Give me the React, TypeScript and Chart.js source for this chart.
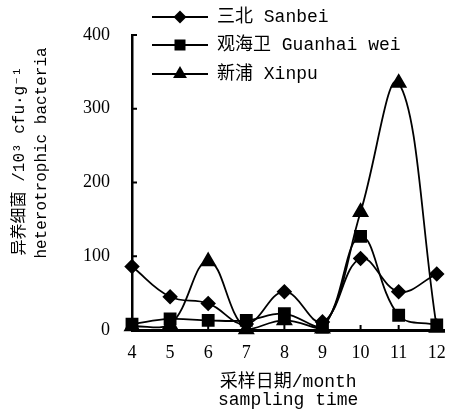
import React, { useEffect, useRef } from 'react';
import { Chart, registerables } from 'chart.js';

Chart.register(...registerables);

const months = [4, 5, 6, 7, 8, 9, 10, 11, 12];
const sanbei = [86, 45, 36, 8, 52, 11, 97, 52, 76];
const guanhai = [8, 15, 13, 13, 22, 4, 127, 20, 7];
const xinpu = [5, 7, 93, 1, 13, 2, 160, 335, 3];
const seriesLabels = ['三北 Sanbei', '观海卫 Guanhai wei', '新浦 Xinpu'];
const seriesMarkers = ['rectRot', 'rect', 'triangle'];
const yTicks = [0, 100, 200, 300, 400];
const yTitleLines = ['异养细菌 /10³ cfu·g⁻¹', 'heterotrophic bacteria'];
const xTitleLines = ['采样日期/month', 'sampling time'];

const MONO = "'Liberation Mono', 'Noto Sans CJK SC', monospace";
const SERIF = "'Liberation Serif', serif";

function drawMarker(ctx: CanvasRenderingContext2D, kind: string, x: number, y: number) {
  ctx.beginPath();
  if (kind === 'rectRot') {
    const r = 6.5;
    ctx.moveTo(x, y - r); ctx.lineTo(x + r, y); ctx.lineTo(x, y + r); ctx.lineTo(x - r, y);
  } else if (kind === 'rect') {
    const s = 5.5;
    ctx.rect(x - s, y - s, 2 * s, 2 * s);
  } else {
    const r = 8;
    const side = r * Math.sqrt(3);
    const h = side * Math.sqrt(3) / 2;
    ctx.moveTo(x, y - (2 / 3) * h); ctx.lineTo(x + side / 2, y + h / 3); ctx.lineTo(x - side / 2, y + h / 3);
  }
  ctx.closePath();
  ctx.fill();
}

const decorPlugin = {
  id: 'decor',
  afterDraw(chart: any) {
    const ctx: CanvasRenderingContext2D = chart.ctx;
    const { left, bottom } = chart.chartArea;
    const xs = chart.scales.x;
    const ys = chart.scales.y;
    ctx.save();
    ctx.strokeStyle = '#000';
    ctx.fillStyle = '#000';
    ctx.lineWidth = 2;
    yTicks.forEach((v) => {
      if (v === 0) return;
      const py = ys.getPixelForValue(v);
      ctx.beginPath(); ctx.moveTo(left, py); ctx.lineTo(left + 5, py); ctx.stroke();
    });
    months.forEach((m) => {
      if (m === months[0]) return;
      const px = xs.getPixelForValue(m);
      ctx.beginPath(); ctx.moveTo(px, bottom); ctx.lineTo(px, bottom - 5); ctx.stroke();
    });
    const rows = [17, 45, 74];
    ctx.font = `18px ${MONO}`;
    ctx.textBaseline = 'middle';
    ctx.textAlign = 'left';
    seriesLabels.forEach((lab, i) => {
      const y = rows[i];
      ctx.lineWidth = 2;
      ctx.beginPath(); ctx.moveTo(152, y); ctx.lineTo(208, y); ctx.stroke();
      drawMarker(ctx, seriesMarkers[i], 180, y);
      ctx.fillText(lab, 217, y);
    });
    ctx.font = `16px ${MONO}`;
    ctx.textAlign = 'center';
    const ycent = [[20, 161], [42, 153]];
    yTitleLines.forEach((t, i) => {
      ctx.save();
      ctx.translate(ycent[i][0], ycent[i][1]);
      ctx.rotate(-Math.PI / 2);
      ctx.fillText(t, 0, 0);
      ctx.restore();
    });
    ctx.restore();
  },
};

export default function App() {
  const ref = useRef<HTMLCanvasElement | null>(null);
  useEffect(() => {
    document.body.style.margin = '0';
    const mk = (data: number[]) => months.map((m, i) => ({ x: m, y: data[i] }));
    const common = {
      borderColor: '#000',
      backgroundColor: '#000',
      pointBackgroundColor: '#000',
      pointBorderColor: '#000',
      borderWidth: 1.8,
      tension: 0.4,
      clip: false as any,
    };
    const chart = new Chart(ref.current!, {
      type: 'line',
      data: {
        datasets: [
          { ...common, label: seriesLabels[0], data: mk(sanbei), pointStyle: 'rectRot', pointRadius: 6.5 },
          { ...common, label: seriesLabels[1], data: mk(guanhai), pointStyle: 'rect', pointRadius: 7.8 },
          { ...common, label: seriesLabels[2], data: mk(xinpu), pointStyle: 'triangle', pointRadius: 8 },
        ],
      },
      options: {
        animation: false,
        responsive: true,
        maintainAspectRatio: false,
        layout: { padding: { top: 35, right: 10, left: 0, bottom: 0 } },
        plugins: { legend: { display: false }, tooltip: { enabled: false } },
        scales: {
          x: {
            type: 'linear',
            min: 4,
            max: 12.2,
            afterBuildTicks: (s: any) => { s.ticks = months.map((v) => ({ value: v })); },
            afterFit: (s: any) => { s.height = 90; },
            grid: { display: false, drawTicks: false },
            border: { display: true, color: '#000', width: 3 },
            ticks: {
              autoSkip: false,
              maxRotation: 0,
              padding: 12,
              color: '#000',
              font: { family: SERIF, size: 18 },
              callback: (v: any) => String(v),
            },
            title: {
              display: true,
              text: xTitleLines,
              color: '#000',
              font: { family: MONO, size: 18, lineHeight: 1.0 },
              padding: { top: 0, bottom: 11 },
            },
          },
          y: {
            min: 0,
            max: 400,
            afterFit: (s: any) => { s.width = 132; },
            grid: { display: false, drawTicks: false },
            border: { display: true, color: '#000', width: 2.5 },
            ticks: {
              stepSize: 100,
              padding: 22,
              color: '#000',
              font: { family: SERIF, size: 18 },
              callback: (v: any) => (yTicks.includes(v) ? String(v) : ''),
            },
          },
        },
      },
      plugins: [decorPlugin],
    });
    return () => chart.destroy();
  }, []);
  return (
    <div style={{ position: 'fixed', left: 0, top: 0, width: 458, height: 420, background: '#fff' }}>
      <canvas ref={ref} />
    </div>
  );
}
